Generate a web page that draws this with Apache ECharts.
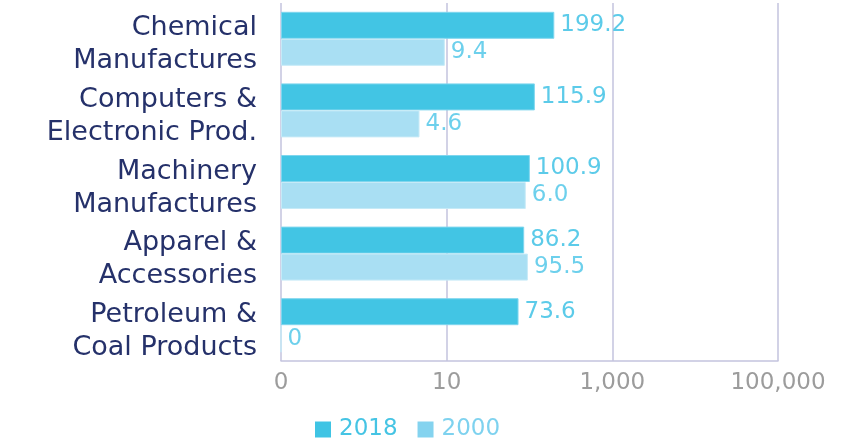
<!DOCTYPE html>
<html>
<head>
<meta charset="utf-8">
<script src="https://cdn.jsdelivr.net/npm/echarts@6/dist/echarts.min.js"></script>
<style>
html,body{margin:0;padding:0;background:#fff;}
#main{width:841px;height:441px;}
</style>
</head>
<body>
<div id="main"></div>
<script>
var categories=['Chemical\nManufactures','Computers &\nElectronic Prod.','Machinery\nManufactures','Apparel &\nAccessories','Petroleum &\nCoal Products'];
var values2018=[199.2,115.9,100.9,86.2,73.6];
// bar lengths as drawn in the picture
var values2000=[9.4,4.6,90,95.5,0];
var labels2018=['199.2','115.9','100.9','86.2','73.6'];
var labels2000=['9.4','4.6','6.0','95.5','0'];
var seriesNames=['2018','2000'];
var axisMin=0.1;

var font='DejaVu Sans';
var myChart=echarts.init(document.getElementById('main'));

// log axis bars grow from 1, so stack them on an invisible base at the axis minimum
var baseData=categories.map(function(){return axisMin;});
function baseSeries(stack){
	return {
		type:'bar',
		name:'base'+stack,
		stack:stack,
		data:baseData,
		barWidth:27,
		barGap:'0%',
		silent:true,
		itemStyle:{color:'rgba(0,0,0,0)'},
		label:{show:false}
	};
}
function valueSeries(stack,name,data,labels,color,border,labelColor){
	return {
		type:'bar',
		name:name,
		stack:stack,
		data:data,
		barWidth:27,
		barGap:'0%',
		itemStyle:{color:color,borderColor:border,borderWidth:1},
		label:{
			show:true,
			position:'right',
			distance:6,
			color:labelColor,
			fontFamily:font,
			fontSize:23,
			formatter:function(p){return labels[p.dataIndex];}
		}
	};
}

var option={
	backgroundColor:'#fff',
	animation:false,
	grid:{
		left:281,
		right:63,
		top:3,
		bottom:80,
		outerBoundsMode:'none'
	},
	legend:{
		bottom:-5,
		left:310,
		itemWidth:16,
		itemHeight:16,
		itemGap:20,
		icon:'rect',
		textStyle:{fontFamily:font,fontSize:23,padding:[0,0,0,3]},
		data:[
			{name:'2018',itemStyle:{color:'#3fc4e4',borderWidth:0},textStyle:{color:'#45c4e4'}},
			{name:'2000',itemStyle:{color:'#84d3ef',borderWidth:0},textStyle:{color:'#7ed2ef'}}
		]
	},
	xAxis:{
		type:'log',
		logBase:10,
		min:axisMin,
		max:100000,
		interval:2,
		axisLine:{show:true,lineStyle:{color:'#c3c3de',width:1.5}},
		axisTick:{show:false},
		splitLine:{show:true,lineStyle:{color:'#c3c3de',width:1.5}},
		axisLabel:{
			color:'#9c9c9c',
			fontFamily:font,
			fontSize:23,
			margin:11,
			formatter:function(v){
				if(v<1){return '0';}
				return Math.round(v).toLocaleString('en-US');
			}
		}
	},
	yAxis:{
		type:'category',
		inverse:true,
		data:categories,
		axisLine:{show:false},
		axisTick:{show:false},
		splitLine:{show:false},
		axisLabel:{
			interval:0,
			showMinLabel:true,
			showMaxLabel:true,
			hideOverlap:false,
			margin:24,
			align:'right',
			// small spacer line on top pushes the two text lines down a little
			formatter:function(v){
				return '{s| }\n'+v.split('\n').map(function(l){return '{c|'+l+'}';}).join('\n');
			},
			rich:{
				s:{fontSize:6,lineHeight:12,height:12},
				c:{color:'#25316a',fontFamily:font,fontSize:27,lineHeight:33,align:'right'}
			}
		}
	},
	series:[
		baseSeries('a'),
		valueSeries('a',seriesNames[0],values2018,labels2018,'#42c5e4','#7fd6ee','#5ccbe9'),
		baseSeries('b'),
		valueSeries('b',seriesNames[1],values2000,labels2000,'#a9dff3','#c6eaf7','#6dd0ec')
	]
};
myChart.setOption(option);
</script>
</body>
</html>
